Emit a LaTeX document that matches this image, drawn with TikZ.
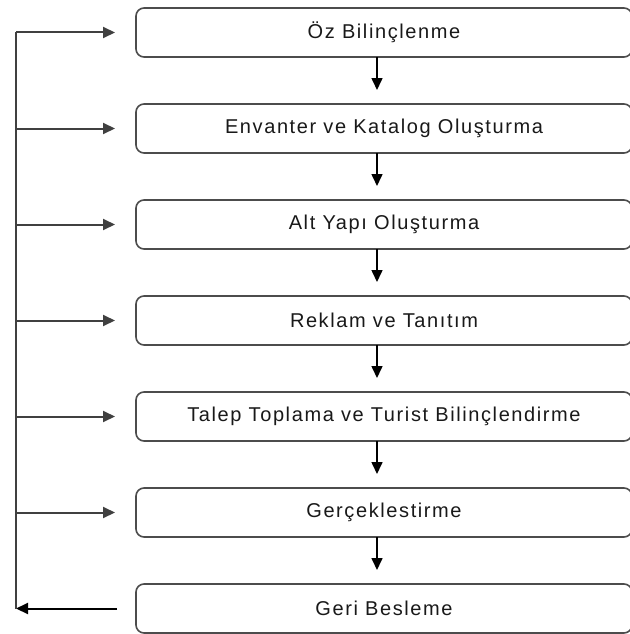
\documentclass[tikz,border=0pt]{standalone}
\usepackage{fontspec}
\setmainfont{Liberation Sans}
\newfontfamily\boxfont[LetterSpace=8]{Liberation Sans}
\usetikzlibrary{positioning, arrows.meta}
\tikzset{
  stepbox/.style={rectangle, rounded corners=8pt, draw=black!70,
                  line width=1.6pt, fill=white, minimum width=496pt,
                  minimum height=49pt, inner sep=0pt, outer sep=0pt,
                  align=center, font=\boxfont\fontsize{20}{23}\selectfont,
                  text=black!90},
  arr/.style={-{Triangle[length=12pt,width=11pt]}, line width=1.6pt,
              shorten >=14pt},
  farr/.style={-{Triangle[length=12pt,width=11pt]}, line width=2pt,
               draw=black!75},
}

\begin{document}
\begin{tikzpicture}[x=1pt, y=-1pt, node distance=47pt]
  \useasboundingbox (0,0) rectangle (629,634);
  \node[stepbox] (s1) at (384,32.5) {Öz Bilinçlenme};
  \node[stepbox, below=of s1] (s2) {Envanter ve Katalog Oluşturma};
  \node[stepbox, below=of s2] (s3) {Alt Yapı Oluşturma};
  \node[stepbox, below=of s3] (s4) {Reklam ve Tanıtım};
  \node[stepbox, below=of s4] (s5) {Talep Toplama ve Turist Bilinçlendirme};
  \node[stepbox, below=of s5] (s6) {Gerçeklestirme};
  \node[stepbox, below=of s6] (s7) {Geri Besleme};
  \coordinate (fb) at (16,608);
  % flow down
  \foreach \a/\b in {s1/s2, s2/s3, s3/s4, s4/s5, s5/s6, s6/s7}
    \draw[arr] ([xshift=-7pt]\a.south) -- ([xshift=-7pt]\b.north);
  % feedback
  \draw[farr, draw=black, shorten <=19pt] (s7.west) -- (fb |- s7.west);
  \draw[line width=2pt, draw=black!75] (fb |- s7.west) -- (fb |- s1.west);
  \foreach \n in {1,...,6}
    \draw[farr, shorten >=21pt] (fb |- s\n.west) -- (s\n.west);
\end{tikzpicture}
\end{document}
